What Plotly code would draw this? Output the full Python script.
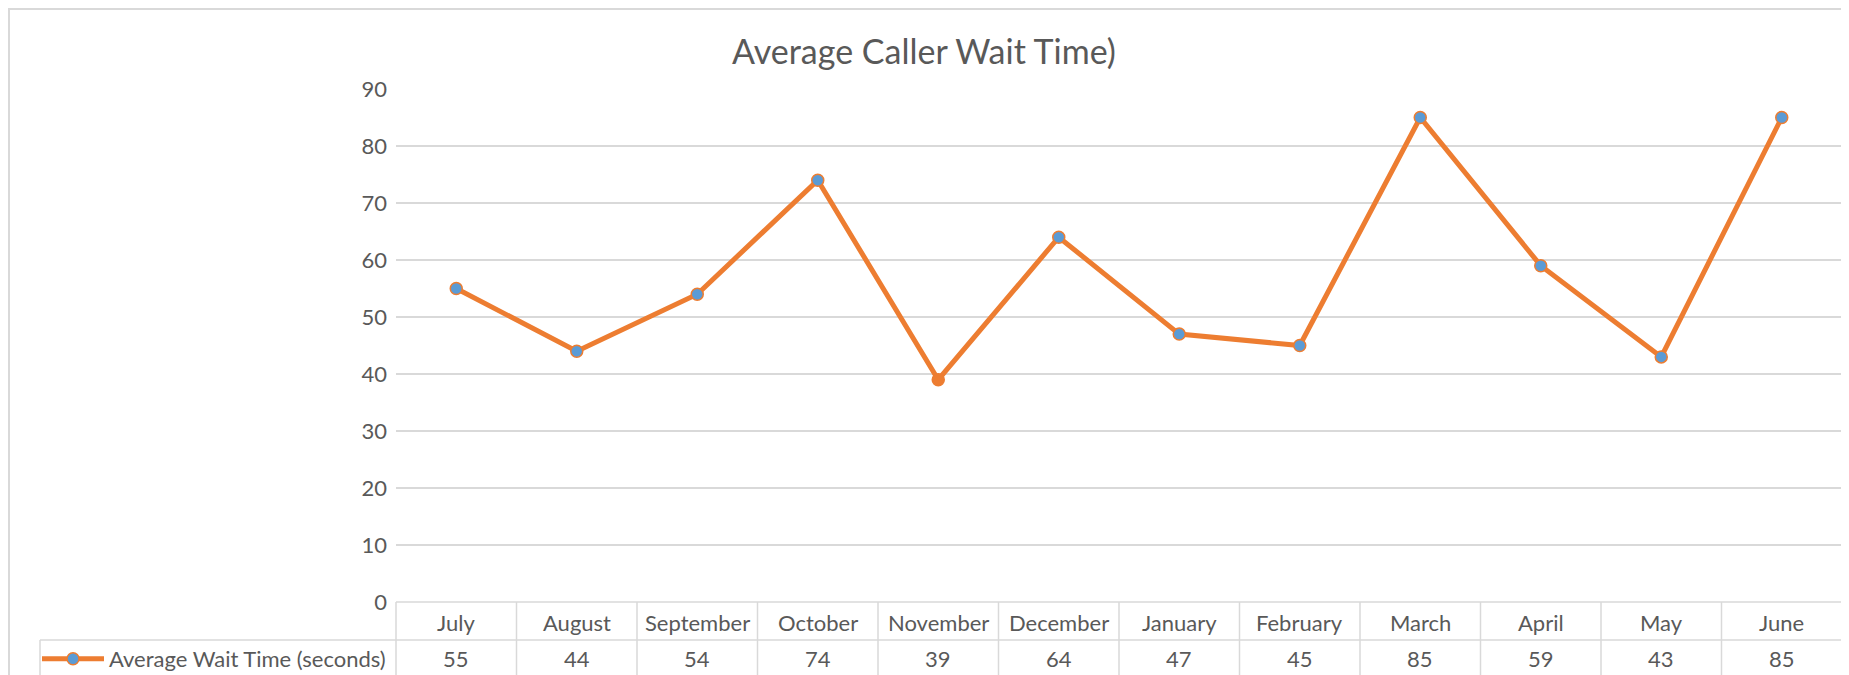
import plotly.graph_objects as go

# ── Data ─────────────────────────────────────────────
months = ["July", "August", "September", "October", "November", "December",
          "January", "February", "March", "April", "May", "June"]
wait_seconds = [55, 44, 54, 74, 39, 64, 47, 45, 85, 59, 43, 85]
series_name = "Average Wait Time (seconds)"
y_ticks = [0, 10, 20, 30, 40, 50, 60, 70, 80, 90]

ORANGE = "#ED7D31"
BLUE = "#5B9BD5"
GREY_TXT = "#595959"
GRID = "#D9D9D9"
FONT = "Lato"

# the page body has an 8px margin, so the figure starts at (8, 8) in the window
OFF = 8
W, H = 1849 - OFF, 675 - OFF
L = 396 - OFF          # plot left edge (window px 396)
R = W - (1842 - OFF)   # plot right edge (window px 1842)
T = 89 - OFF           # gridline 90 (window px 89)
B = H - (602 - OFF)    # gridline 0 (window px 602)
plot_w = W - L - R
plot_h = H - T - B


def px_x(p):
    # window pixel -> paper x
    return (p - OFF - L) / plot_w


def px_y(p):
    # window pixel -> paper y
    return (H - B - (p - OFF)) / plot_h


marker_colors = [ORANGE if m == "November" else BLUE for m in months]

fig = go.Figure()
fig.add_trace(go.Scatter(
    x=months, y=wait_seconds,
    mode="lines+markers",
    name=series_name,
    line=dict(color=ORANGE, width=5),
    marker=dict(size=12, color=marker_colors, line=dict(color=ORANGE, width=1.5)),
    cliponaxis=False,
))

# ── table grid ───────────────────────────────────────
shapes = []
line_style = dict(color=GRID, width=1.5)
row_mid = px_y(640)
bottom = px_y(690)
shapes.append(dict(type="line", xref="paper", yref="paper",
                   x0=0, x1=1, y0=0, y1=0, line=line_style))
shapes.append(dict(type="line", xref="paper", yref="paper",
                   x0=px_x(40), x1=1, y0=row_mid, y1=row_mid, line=line_style))
shapes.append(dict(type="line", xref="paper", yref="paper",
                   x0=px_x(40), x1=px_x(40), y0=row_mid, y1=bottom, line=line_style))
for i in range(len(months) + 1):
    xp = i / len(months)
    shapes.append(dict(type="line", xref="paper", yref="paper",
                       x0=xp, x1=xp, y0=0, y1=bottom, line=line_style))
# outer chart border
shapes.append(dict(type="rect", xref="paper", yref="paper",
                   x0=px_x(9), x1=1, y0=bottom, y1=px_y(9),
                   line=dict(color=GRID, width=2), layer="below"))

annotations = []
for m, v in zip(months, wait_seconds):
    annotations.append(dict(x=m, xref="x", y=px_y(622), yref="paper",
                            text=m, showarrow=False, yanchor="middle",
                            font=dict(size=22, color=GREY_TXT, family=FONT)))
    annotations.append(dict(x=m, xref="x", y=px_y(658), yref="paper",
                            text=str(v), showarrow=False, yanchor="middle",
                            font=dict(size=22, color=GREY_TXT, family=FONT)))

fig.update_layout(
    width=W, height=H,
    margin=dict(l=L, r=R, t=T, b=B, autoexpand=False),
    paper_bgcolor="white",
    plot_bgcolor="white",
    font=dict(family=FONT, color=GREY_TXT),
    title=dict(
        text="Average Caller Wait Time)",
        font=dict(size=34, color=GREY_TXT, family=FONT),
        x=(924 - OFF) / W, xanchor="center",
        y=1 - (52 - OFF) / H, yanchor="middle", yref="container",
    ),
    xaxis=dict(
        range=[-0.5, len(months) - 0.5],
        showticklabels=False, showgrid=False, zeroline=False,
        showline=False, fixedrange=True,
    ),
    yaxis=dict(
        range=[0, 90], tickvals=y_ticks,
        gridcolor=GRID, gridwidth=1.5, zeroline=False, showline=False,
        tickfont=dict(size=22, color=GREY_TXT, family=FONT),
        ticklabelstandoff=8,
    ),
    showlegend=True,
    legend=dict(
        x=px_x(37), xanchor="left",
        y=px_y(659), yanchor="middle",
        bgcolor="rgba(0,0,0,0)",
        font=dict(size=22, color=GREY_TXT, family=FONT),
        itemwidth=62,
    ),
    shapes=shapes,
    annotations=annotations,
)

fig.write_html("out.html")
